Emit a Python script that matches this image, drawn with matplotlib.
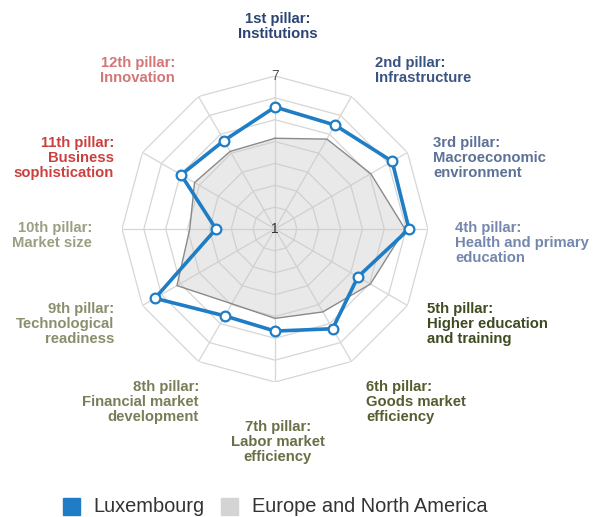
import numpy as np
import matplotlib
matplotlib.use("Agg")
from matplotlib import pyplot as plt
from matplotlib.patches import Rectangle

plt.rcParams['font.family'] = ['Liberation Sans', 'DejaVu Sans']

pillars = ['1st pillar:\nInstitutions', '2nd pillar:\nInfrastructure',
           '3rd pillar:\nMacroeconomic\nenvironment',
           '4th pillar:\nHealth and primary\neducation',
           '5th pillar:\nHigher education\nand training',
           '6th pillar:\nGoods market\nefficiency',
           '7th pillar:\nLabor market\nefficiency',
           '8th pillar:\nFinancial market\ndevelopment',
           '9th pillar:\nTechnological\nreadiness',
           '10th pillar:\nMarket size',
           '11th pillar:\nBusiness\nsophistication',
           '12th pillar:\nInnovation']
label_colors = ['#2c4472', '#3a5482', '#5d7198', '#7487ad',
                '#3f4b20', '#545e30', '#6a6f47', '#7a7d58', '#8b8e6c', '#9c9e82',
                '#c9403f', '#d27676']
luxembourg = [5.58, 5.49, 6.19, 6.13, 4.38, 5.27, 4.67, 4.59, 6.34, 2.70, 4.96, 4.67]
europe = [4.15, 4.75, 5.06, 5.95, 5.04, 4.38, 4.09, 3.95, 5.18, 3.90, 4.25, 4.10]
rings = [1, 2, 3, 4, 5, 6, 7]

W, H = 605, 517
fig = plt.figure(figsize=(W / 100, H / 100), dpi=100)

# polar area centred at (275, 229) px, radius 153 px
cx, cy, rad = 275, 229, 153
ax = fig.add_axes([(cx - rad) / W, 1 - (cy + rad) / H, 2 * rad / W, 2 * rad / H],
                  projection='polar')
ax.set_theta_zero_location('N')
ax.set_theta_direction(-1)
ax.set_ylim(0, 7)
ax.grid(False)
ax.set_xticks([])
ax.set_yticks([])
ax.spines['polar'].set_visible(False)
ax.set_facecolor('none')

n = len(pillars)
theta = np.arange(n) * 2 * np.pi / n
tc = np.append(theta, theta[0])

# polygon grid
for r in rings:
    ax.plot(tc, [r] * (n + 1), color='#d6d6d6', lw=0.9, zorder=1)
for t in theta:
    ax.plot([t, t], [0, 7], color='#d6d6d6', lw=0.9, zorder=1)

eu = np.append(europe, europe[0])
ax.fill(tc, eu, color='#c8c8c8', alpha=0.4, lw=0, zorder=2)
ax.plot(tc, eu, color='#8a8a8a', lw=1.0, zorder=3)

lx = np.append(luxembourg, luxembourg[0])
ax.plot(tc, lx, color='#1f7dc6', lw=2.6, zorder=4)
ax.plot(theta, luxembourg, 'o', ms=7, mfc='white', mec='#1f7dc6', mew=1.6,
        zorder=5)

ax.text(0, 7, '7', ha='center', va='center', fontsize=10, color='#555555')
ax.text(0, 0, '1', ha='center', va='center', fontsize=10, color='#333333')

# pillar labels (x px, cap-top y px, alignment)
label_pos = [(278, 12, 'center'), (375, 56, 'left'), (433, 136, 'left'),
             (455, 221, 'left'), (427, 302, 'left'), (366, 380, 'left'),
             (278, 420, 'center'), (199, 380, 'right'), (114, 302, 'right'),
             (92, 221, 'right'), (114, 136, 'right'), (175, 56, 'right')]
for lab, col, (x, y, ha) in zip(pillars, label_colors, label_pos):
    fig.text(x / W, 1 - y / H, lab, ha=ha, va='top', ma=ha, fontsize=10.7,
             fontweight='bold', color=col, linespacing=1.1)

# legend (kept just inside the bottom edge)
fig.patches.append(Rectangle((63 / W, 1 - 515 / H), 17 / W, 17 / H,
                             transform=fig.transFigure, color='#1f7dc6'))
fig.text(93 / W, 1 - 512 / H, 'Luxembourg', fontsize=14.4, color='#333333',
         va='baseline')
fig.patches.append(Rectangle((221 / W, 1 - 515 / H), 17 / W, 17 / H,
                             transform=fig.transFigure, color='#d4d4d4'))
fig.text(252 / W, 1 - 512 / H, 'Europe and North America', fontsize=14.4,
         color='#333333', va='baseline')

fig.savefig('out.png', dpi=100)
